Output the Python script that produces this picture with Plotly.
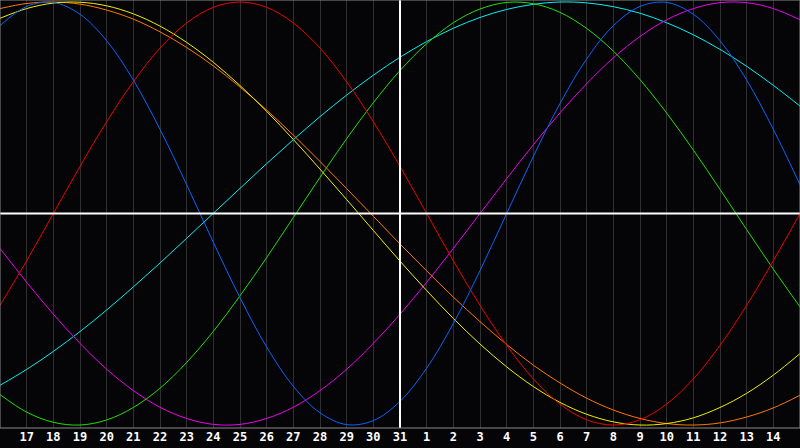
import plotly.graph_objects as go

# day labels (index 0 = 16th, index 30 = 15th of next month)
days = [16, 17, 18, 19, 20, 21, 22, 23, 24, 25, 26, 27, 28, 29, 30, 31,
        1, 2, 3, 4, 5, 6, 7, 8, 9, 10, 11, 12, 13, 14, 15]
x_idx = list(range(len(days)))

physical = [0.888, 0.979, 0.998, 0.942, 0.817, 0.631, 0.398, 0.136, -0.136, -0.398, -0.631,
            -0.817, -0.942, -0.998, -0.979, -0.888, -0.731, -0.520, -0.270, 0.0, 0.270,
            0.520, 0.731, 0.888, 0.979, 0.998, 0.942, 0.817, 0.631, 0.398, 0.136]
emotional = [-0.434, -0.223, 0.0, 0.223, 0.434, 0.623, 0.782, 0.901, 0.975, 1.0, 0.975,
             0.901, 0.782, 0.623, 0.434, 0.223, 0.0, -0.223, -0.434, -0.623, -0.782,
             -0.901, -0.975, -1.0, -0.975, -0.901, -0.782, -0.623, -0.434, -0.223, 0.0]
intellectual = [-0.856, -0.939, -0.987, -1.0, -0.976, -0.917, -0.826, -0.704, -0.557, -0.389,
                -0.208, -0.019, 0.171, 0.354, 0.524, 0.676, 0.803, 0.902, 0.967, 0.998,
                0.992, 0.951, 0.875, 0.768, 0.633, 0.475, 0.300, 0.114, -0.076, -0.263, -0.441]
spiritual = [-0.812, -0.737, -0.652, -0.558, -0.456, -0.347, -0.234, -0.117, 0.001, 0.119,
             0.236, 0.349, 0.458, 0.560, 0.654, 0.739, 0.813, 0.876, 0.927, 0.965, 0.989,
             1.0, 0.996, 0.978, 0.947, 0.902, 0.845, 0.776, 0.696, 0.606, 0.508]
intuitive = [-0.165, -0.325, -0.476, -0.614, -0.736, -0.837, -0.916, -0.969, -0.997, -0.997,
             -0.969, -0.916, -0.837, -0.736, -0.614, -0.476, -0.325, -0.165, 0.0, 0.165,
             0.325, 0.476, 0.614, 0.736, 0.837, 0.916, 0.969, 0.997, 0.997, 0.969, 0.916]
aesthetic = [0.923, 0.969, 0.995, 0.999, 0.982, 0.944, 0.886, 0.809, 0.715, 0.605, 0.483,
             0.350, 0.210, 0.066, -0.080, -0.225, -0.364, -0.496, -0.617, -0.725, -0.818,
             -0.893, -0.949, -0.985, -1.0, -0.993, -0.966, -0.917, -0.850, -0.764, -0.662]
awareness = [0.969, 0.993, 1.0, 0.990, 0.962, 0.919, 0.859, 0.785, 0.698, 0.598, 0.489,
             0.371, 0.246, 0.118, -0.013, -0.144, -0.271, -0.395, -0.511, -0.619, -0.717,
             -0.801, -0.873, -0.929, -0.969, -0.993, -1.0, -0.990, -0.962, -0.919, -0.859]

series = [
    ("Spiritual", spiritual, "#00f0f0"),
    ("Intuitive", intuitive, "#f000f0"),
    ("Intellectual", intellectual, "#20e000"),
    ("Awareness", awareness, "#ff7800"),
    ("Aesthetic", aesthetic, "#f0f000"),
    ("Emotional", emotional, "#f00000"),
    ("Physical", physical, "#0a64ff"),
]

fig = go.Figure()
for name, vals, col in series:
    fig.add_trace(go.Scatter(x=x_idx, y=vals, mode="lines", name=name,
                             line=dict(color=col, width=1, shape="spline", smoothing=1.0),
                             hoverinfo="skip", cliponaxis=True))

today_idx = days.index(31)

fig.update_layout(
    width=800, height=448,
    margin=dict(l=0, r=0, t=0, b=20, pad=0, autoexpand=False),
    paper_bgcolor="#050508", plot_bgcolor="#050508",
    showlegend=False,
    xaxis=dict(range=[0, 30], showgrid=True, gridcolor="#303030", gridwidth=1,
               tickmode="array", tickvals=x_idx[1:-1], ticktext=[str(d) for d in days[1:-1]],
               tickfont=dict(family="DejaVu Sans Mono", size=12, color="white", weight="bold"),
               ticks="", zeroline=False, showline=False, fixedrange=True,
               automargin=False, ticklabelstandoff=0),
    yaxis=dict(range=[-1.014, 1.0095], showgrid=False, zeroline=False,
               showticklabels=False, ticks="", showline=False, fixedrange=True,
               automargin=False),
    shapes=[
        dict(type="line", xref="paper", yref="y", x0=0, x1=1, y0=0, y1=0,
             line=dict(color="white", width=2), layer="above"),
        dict(type="line", xref="x", yref="paper", x0=today_idx, x1=today_idx, y0=0, y1=1,
             line=dict(color="white", width=2), layer="above"),
        dict(type="rect", xref="paper", yref="paper", x0=0, x1=1, y0=0, y1=1,
             line=dict(color="#8a8a8a", width=1), layer="above"),
    ],
)

fig.write_html("out.html", config={"displayModeBar": False},
               post_script="document.body.style.margin='0';document.body.style.background='#050508';")
